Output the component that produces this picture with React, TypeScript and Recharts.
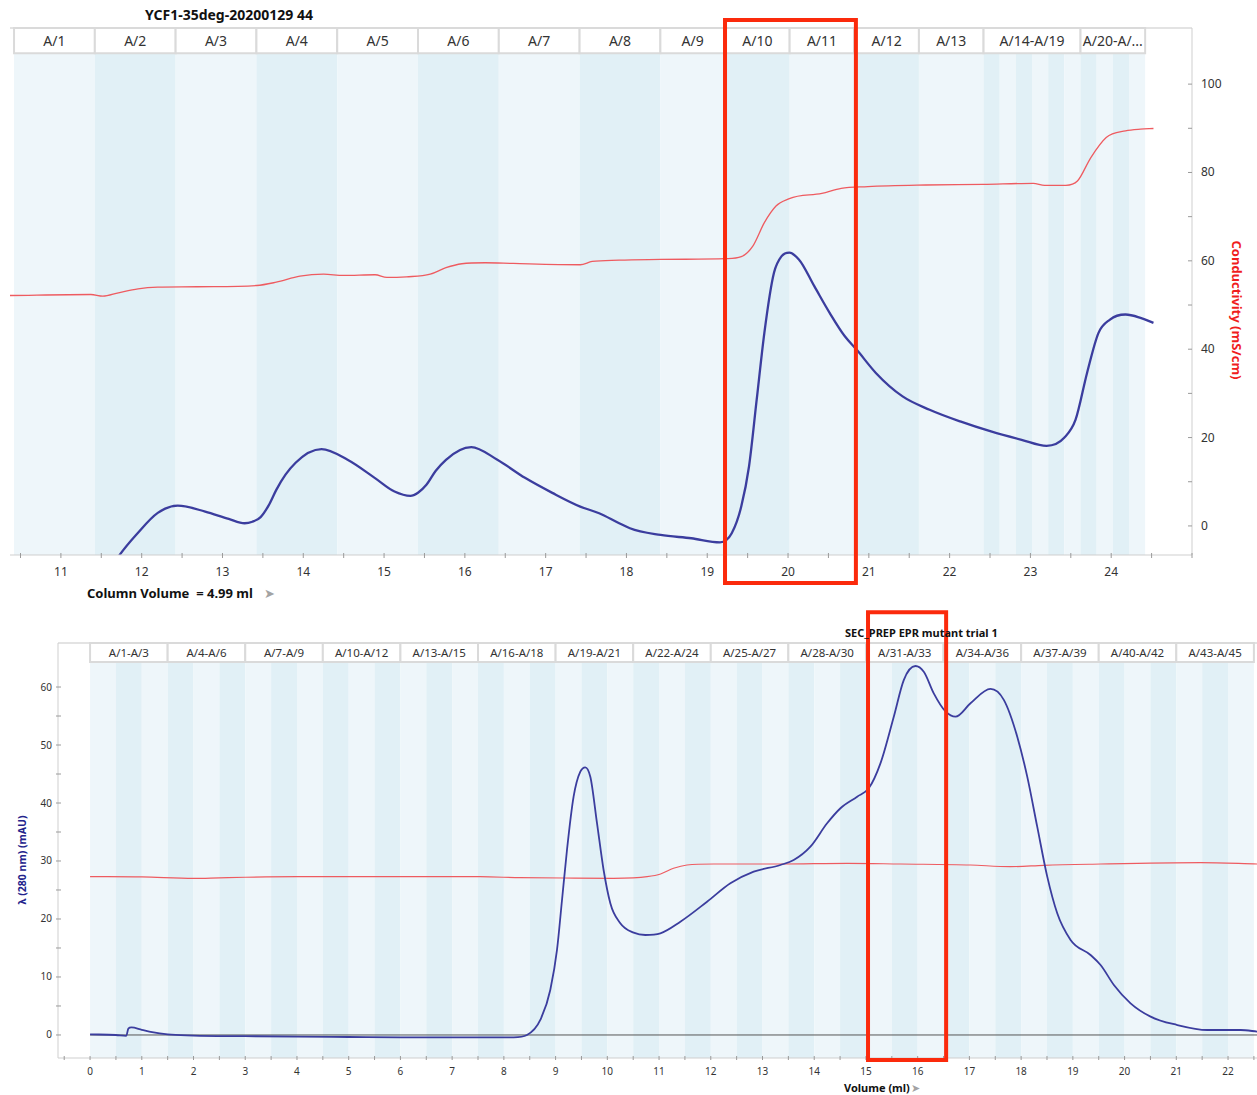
import React from 'react';
import { LineChart, Line, XAxis, YAxis, ReferenceArea, ReferenceLine } from 'recharts';

const FONT = '"Noto Sans", "Open Sans", "DejaVu Sans", sans-serif';

// ---------------- Top run: YCF1-35deg-20200129 44 ----------------
const topTitle = 'YCF1-35deg-20200129 44';
const topUvVolume = [11.62, 11.712, 11.952, 12.199, 12.446, 12.786, 13.077, 13.274, 13.37, 13.472, 13.57, 13.666, 13.78, 13.905, 14.226, 14.548, 14.888, 15.129, 15.326, 15.42, 15.524, 15.64, 15.766, 16.08, 16.402, 16.744, 17.082, 17.428, 17.662, 17.91, 18.043, 18.423, 18.803, 19.158, 19.303, 19.421, 19.517, 19.612, 19.707, 19.826, 19.921, 20.016, 20.134, 20.325, 20.515, 20.703, 20.848, 21.087, 21.418, 21.752, 22.131, 22.512, 22.891, 23.2, 23.415, 23.559, 23.701, 23.843, 23.985, 24.177, 24.362, 24.523];
const topUvValue = [-9.6, -6.96, -1.59, 2.95, 4.6, 3.24, 1.59, 0.61, 0.95, 2.0, 4.6, 8.16, 11.6, 14.29, 17.39, 14.97, 10.82, 7.78, 6.8, 7.5, 9.3, 12.5, 14.97, 17.85, 14.97, 10.88, 7.48, 4.38, 2.88, 0.61, -0.52, -2.04, -2.79, -3.7, -1.66, 4.38, 13.45, 28.57, 43.7, 57.3, 61.07, 61.84, 60.32, 54.26, 48.23, 42.93, 39.91, 34.63, 29.32, 26.3, 23.65, 21.38, 19.5, 18.14, 19.89, 24.04, 34.63, 43.7, 46.71, 47.85, 47.1, 45.96];
const topCondVolume = [10.37, 11.371, 11.519, 11.712, 11.955, 12.199, 12.688, 13.423, 13.666, 13.959, 14.251, 14.497, 14.888, 15.035, 15.277, 15.571, 15.766, 15.963, 16.253, 16.6, 17.428, 17.576, 17.91, 18.423, 19.232, 19.421, 19.564, 19.707, 19.851, 20.016, 20.419, 20.658, 20.988, 21.705, 22.417, 23.035, 23.176, 23.439, 23.582, 23.748, 23.938, 24.177, 24.362, 24.523];
const topCondValue = [52.15, 52.38, 52.0, 52.77, 53.67, 54.04, 54.13, 54.42, 55.17, 56.53, 56.98, 56.69, 56.85, 56.24, 56.39, 56.98, 58.44, 59.34, 59.57, 59.41, 59.12, 59.86, 60.16, 60.32, 60.48, 60.93, 63.33, 68.64, 72.4, 74.08, 75.28, 76.42, 76.8, 77.17, 77.32, 77.55, 77.1, 77.1, 78.07, 83.38, 87.91, 89.41, 89.8, 89.95];
const topFractionEdges = [10.42, 11.42, 12.42, 13.42, 14.42, 15.42, 16.42, 17.42, 18.42, 19.22, 20.02, 20.82, 21.62, 22.42, 22.62, 22.82, 23.02, 23.22, 23.42, 23.62, 23.82, 24.02, 24.22, 24.42];
const topHeaderLabels = ['A/1', 'A/2', 'A/3', 'A/4', 'A/5', 'A/6', 'A/7', 'A/8', 'A/9', 'A/10', 'A/11', 'A/12', 'A/13', 'A/14-A/19', 'A/20-A/...'];
const topHeaderEdges = [10.42, 11.42, 12.42, 13.42, 14.42, 15.42, 16.42, 17.42, 18.42, 19.22, 20.02, 20.82, 21.62, 22.42, 23.62, 24.42];
const topXTicks = [10.5, 11, 11.5, 12, 12.5, 13, 13.5, 14, 14.5, 15, 15.5, 16, 16.5, 17, 17.5, 18, 18.5, 19, 19.5, 20, 20.5, 21, 21.5, 22, 22.5, 23, 23.5, 24, 24.5, 25];
const topXTickLabels = [11, 12, 13, 14, 15, 16, 17, 18, 19, 20, 21, 22, 23, 24];
const topYTicks = [0, 10, 20, 30, 40, 50, 60, 70, 80, 90, 100];
const topYTickLabels = [0, 20, 40, 60, 80, 100];
const topHighlightVolume = [19.22, 20.84];

// ---------------- Bottom run: SEC_PREP EPR mutant trial 1 ----------------
const botTitle = 'SEC_PREP EPR mutant trial 1';
const botUvVolume = [0, 0.5, 0.7, 0.74, 0.8, 1.0, 1.2, 1.5, 2.0, 3.0, 4.0, 5.0, 6.0, 7.0, 8.19, 8.447, 8.704, 8.897, 9.027, 9.124, 9.22, 9.348, 9.478, 9.574, 9.671, 9.801, 9.928, 10.058, 10.251, 10.509, 10.735, 11.025, 11.412, 11.928, 12.379, 12.83, 13.346, 13.603, 13.926, 14.249, 14.507, 14.83, 15.054, 15.28, 15.538, 15.731, 15.957, 16.118, 16.311, 16.538, 16.731, 17.021, 17.408, 17.665, 17.925, 18.118, 18.311, 18.505, 18.698, 18.956, 19.342, 19.536, 19.793, 20.116, 20.503, 21.019, 21.6, 22.244, 22.573];
const botUvValue = [0.1, 0.0, -0.15, 1.1, 1.3, 0.9, 0.5, 0.1, -0.1, -0.2, -0.3, -0.35, -0.4, -0.4, -0.4, 0.0, 2.59, 7.76, 14.66, 23.28, 31.9, 41.09, 45.4, 46.16, 44.54, 36.5, 28.45, 22.7, 19.26, 17.64, 17.24, 17.53, 19.53, 22.98, 26.16, 28.16, 29.31, 30.17, 32.47, 36.5, 39.09, 41.09, 42.53, 46.84, 54.88, 61.2, 63.62, 62.64, 58.91, 55.8, 54.88, 57.19, 59.67, 57.79, 51.43, 44.54, 35.92, 27.3, 20.98, 16.38, 13.79, 12.07, 8.62, 5.46, 3.16, 1.72, 0.86, 0.86, 0.57];
const botCondVolume = [0, 1.0, 2.0, 2.5, 3.0, 4.0, 5.0, 6.0, 7.54, 8.32, 9.15, 10.12, 10.77, 11.03, 11.28, 11.54, 12.06, 13.35, 14.64, 15.67, 17.02, 17.79, 18.44, 19.54, 21.47, 22.57];
const botCondValue = [27.3, 27.25, 27.0, 27.1, 27.2, 27.3, 27.3, 27.3, 27.29, 27.12, 27.07, 27.02, 27.29, 27.76, 28.74, 29.31, 29.48, 29.48, 29.6, 29.48, 29.31, 29.02, 29.26, 29.48, 29.71, 29.48];
const botFractionEdges = [0, 0.5, 1, 1.5, 2, 2.5, 3, 3.5, 4, 4.5, 5, 5.5, 6, 6.5, 7, 7.5, 8, 8.5, 9, 9.5, 10, 10.5, 11, 11.5, 12, 12.5, 13, 13.5, 14, 14.5, 15, 15.5, 16, 16.5, 17, 17.5, 18, 18.5, 19, 19.5, 20, 20.5, 21, 21.5, 22, 22.5];
const botHeaderLabels = ['A/1-A/3', 'A/4-A/6', 'A/7-A/9', 'A/10-A/12', 'A/13-A/15', 'A/16-A/18', 'A/19-A/21', 'A/22-A/24', 'A/25-A/27', 'A/28-A/30', 'A/31-A/33', 'A/34-A/36', 'A/37-A/39', 'A/40-A/42', 'A/43-A/45'];
const botHeaderEdges = [0, 1.5, 3, 4.5, 6, 7.5, 9, 10.5, 12, 13.5, 15, 16.5, 18, 19.5, 21, 22.5];
const botXTicks = [-0.5, 0, 0.5, 1, 1.5, 2, 2.5, 3, 3.5, 4, 4.5, 5, 5.5, 6, 6.5, 7, 7.5, 8, 8.5, 9, 9.5, 10, 10.5, 11, 11.5, 12, 12.5, 13, 13.5, 14, 14.5, 15, 15.5, 16, 16.5, 17, 17.5, 18, 18.5, 19, 19.5, 20, 20.5, 21, 21.5, 22, 22.5];
const botXTickLabels = [0, 1, 2, 3, 4, 5, 6, 7, 8, 9, 10, 11, 12, 13, 14, 15, 16, 17, 18, 19, 20, 21, 22];
const botYTicks = [0, 5, 10, 15, 20, 25, 30, 35, 40, 45, 50, 55, 60];
const botYTickLabels = [0, 10, 20, 30, 40, 50, 60];
const botHighlightVolume = [15.04, 16.55];

// ---------------- helpers ----------------
const zip = (xs: number[], ys: number[]) => xs.map((x, i) => ({ x, y: ys[i] }));

const topUv = zip(topUvVolume, topUvValue);
const topCond = zip(topCondVolume, topCondValue);
const botUv = zip(botUvVolume, botUvValue);
const botCond = zip(botCondVolume, botCondValue);

// scale windows (value space)
const TOP_X_DOMAIN: [number, number] = [10.37, 25.0];
const TOP_Y_DOMAIN: [number, number] = [-6.58, 112.7];
const TOP_HEADER_BOTTOM = 107.0;
const TOP_BOX_Y: [number, number] = [-12.9, 114.5];

const BOT_X_DOMAIN: [number, number] = [-0.62, 22.56];
const BOT_Y_DOMAIN: [number, number] = [-3.97, 67.59];
const BOT_HEADER_BOTTOM = 64.31;
const BOT_BOX_Y: [number, number] = [-4.3, 72.9];

const BAND_LIGHT = '#eef6fa';
const BAND_DARK = '#e1f0f6';
const UV_BLUE = '#3b3d9e';
const COND_RED = '#ee5b60';
const BOX_RED = '#fb2a0c';
const AXIS_GRAY = '#cfcfcf';
const TICK_GRAY = '#9a9a9a';
const TEXT = '#333333';

// Smooth Hermite curve through the points (Fritsch–Carlson limited tangents)
const smoothCurve = (context: any) => {
  let xs: number[] = [];
  let ys: number[] = [];
  return {
    areaStart() {},
    areaEnd() {},
    lineStart() {
      xs = [];
      ys = [];
    },
    point(x: number, y: number) {
      xs.push(+x);
      ys.push(+y);
    },
    lineEnd() {
      const n = xs.length;
      if (n === 0) return;
      context.moveTo(xs[0], ys[0]);
      if (n === 1) return;
      if (n === 2) {
        context.lineTo(xs[1], ys[1]);
        return;
      }
      const s: number[] = [];
      for (let i = 0; i < n - 1; i++) s.push((ys[i + 1] - ys[i]) / (xs[i + 1] - xs[i] || 1e-9));
      const m: number[] = [];
      for (let i = 0; i < n; i++) {
        if (i === 0) m.push(s[0]);
        else if (i === n - 1) m.push(s[n - 2]);
        else {
          const h0 = xs[i] - xs[i - 1];
          const h1 = xs[i + 1] - xs[i];
          const s0 = s[i - 1];
          const s1 = s[i];
          if (s0 * s1 <= 0) m.push(0);
          else {
            const p = (s0 * h1 + s1 * h0) / (h0 + h1);
            const lim = 3 * Math.min(Math.abs(s0), Math.abs(s1));
            m.push(Math.sign(p) * Math.min(Math.abs(p), lim));
          }
        }
      }
      for (let i = 0; i < n - 1; i++) {
        const h = xs[i + 1] - xs[i];
        context.bezierCurveTo(
          xs[i] + h / 3,
          ys[i] + (m[i] * h) / 3,
          xs[i + 1] - h / 3,
          ys[i + 1] - (m[i + 1] * h) / 3,
          xs[i + 1],
          ys[i + 1]
        );
      }
    },
  };
};

const makeXTick = (labels: number[], fontSize: number, labelDy: number, up: number, down: number) => (props: any) => {
  const { x, y, payload } = props;
  const v = payload.value as number;
  return (
    <g>
      <line x1={x} x2={x} y1={y - up} y2={y + down} stroke={TICK_GRAY} strokeWidth={1} />
      {labels.includes(v) && (
        <text x={x} y={y + labelDy} textAnchor="middle" fontSize={fontSize} fill={TEXT} fontFamily={FONT}>
          {v}
        </text>
      )}
    </g>
  );
};

const TopXTick = makeXTick(topXTickLabels, 12, 21, 2, 3);
const BotXTick = makeXTick(botXTickLabels, 10, 16.5, 2, 2);

const TopYTick = (props: any) => {
  const { x, y, payload } = props;
  const v = payload.value as number;
  return (
    <g>
      <line x1={x - 4} x2={x} y1={y} y2={y} stroke={TICK_GRAY} strokeWidth={1} />
      {topYTickLabels.includes(v) && (
        <text x={x + 9} y={y + 4} textAnchor="start" fontSize={12} fill={TEXT} fontFamily={FONT}>
          {v}
        </text>
      )}
    </g>
  );
};

const BotYTick = (props: any) => {
  const { x, y, payload } = props;
  const v = payload.value as number;
  return (
    <g>
      <line x1={x - 2} x2={x + 3} y1={y} y2={y} stroke={TICK_GRAY} strokeWidth={1} />
      {botYTickLabels.includes(v) && (
        <text x={x - 6} y={y + 3.5} textAnchor="end" fontSize={10} fill={TEXT} fontFamily={FONT}>
          {v}
        </text>
      )}
    </g>
  );
};

const bands = (edges: number[], y1: number, y2: number, keyPrefix: string) =>
  edges.slice(0, -1).map((e, i) => (
    <ReferenceArea
      key={`${keyPrefix}-band-${i}`}
      x1={e}
      x2={edges[i + 1]}
      y1={y1}
      y2={y2}
      fill={i % 2 === 0 ? BAND_LIGHT : BAND_DARK}
      fillOpacity={1}
      stroke="none"
      ifOverflow="visible"
    />
  ));

const headers = (labels: string[], edges: number[], y1: number, y2: number, fontSize: number, keyPrefix: string) =>
  labels.map((lab, i) => (
    <ReferenceArea
      key={`${keyPrefix}-hdr-${i}`}
      x1={edges[i]}
      x2={edges[i + 1]}
      y1={y1}
      y2={y2}
      fill="#ffffff"
      fillOpacity={1}
      stroke="#dadada"
      strokeWidth={2}
      ifOverflow="visible"
      label={{ value: lab, position: 'center', fill: TEXT, fontSize, fontFamily: FONT }}
    />
  ));

const TopChart = () => (
  <LineChart width={1257} height={605} margin={{ top: 28, right: 0, bottom: 0, left: 10 }}>
    <XAxis
      type="number"
      dataKey="x"
      domain={TOP_X_DOMAIN}
      allowDataOverflow
      ticks={topXTicks}
      interval={0}
      tickSize={0}
      tickMargin={0}
      tickLine={false}
      tick={TopXTick}
      height={50}
      axisLine={{ stroke: AXIS_GRAY }}
    />
    <YAxis
      type="number"
      orientation="right"
      domain={TOP_Y_DOMAIN}
      allowDataOverflow
      ticks={topYTicks}
      interval={0}
      tickSize={0}
      tickMargin={0}
      tickLine={false}
      tick={TopYTick}
      width={65}
      axisLine={{ stroke: AXIS_GRAY }}
    />
    {bands(topFractionEdges, TOP_Y_DOMAIN[0], TOP_HEADER_BOTTOM, 'top')}
    {headers(topHeaderLabels, topHeaderEdges, TOP_HEADER_BOTTOM, TOP_Y_DOMAIN[1], 14, 'top')}
    <ReferenceLine y={TOP_Y_DOMAIN[1]} stroke="#dadada" strokeWidth={1.5} ifOverflow="visible" />
    <Line data={topCond} dataKey="y" type={smoothCurve as any} stroke={COND_RED} strokeWidth={1.3} dot={false} isAnimationActive={false} />
    <Line data={topUv} dataKey="y" type={smoothCurve as any} stroke={UV_BLUE} strokeWidth={2.3} dot={false} isAnimationActive={false} />
    <ReferenceArea
      x1={topHighlightVolume[0]}
      x2={topHighlightVolume[1]}
      y1={TOP_BOX_Y[0]}
      y2={TOP_BOX_Y[1]}
      fill="none"
      fillOpacity={0}
      stroke={BOX_RED}
      strokeWidth={4}
      ifOverflow="visible"
      {...({ zIndex: 2000 } as any)}
    />
  </LineChart>
);

const BottomChart = () => (
  <LineChart width={1257} height={490} margin={{ top: 38, right: 0, bottom: 0, left: 0 }}>
    <XAxis
      type="number"
      dataKey="x"
      domain={BOT_X_DOMAIN}
      allowDataOverflow
      ticks={botXTicks}
      interval={0}
      tickSize={0}
      tickMargin={0}
      tickLine={false}
      tick={BotXTick}
      height={37}
      axisLine={{ stroke: AXIS_GRAY }}
    />
    <YAxis
      type="number"
      orientation="left"
      domain={BOT_Y_DOMAIN}
      allowDataOverflow
      ticks={botYTicks}
      interval={0}
      tickSize={0}
      tickMargin={0}
      tickLine={false}
      tick={BotYTick}
      width={58}
      axisLine={{ stroke: AXIS_GRAY }}
    />
    {bands(botFractionEdges, BOT_Y_DOMAIN[0], BOT_HEADER_BOTTOM, 'bot')}
    {headers(botHeaderLabels, botHeaderEdges, BOT_HEADER_BOTTOM, BOT_Y_DOMAIN[1], 11.5, 'bot')}
    <ReferenceLine y={BOT_Y_DOMAIN[1]} stroke="#dadada" strokeWidth={1.5} ifOverflow="visible" />
    <ReferenceLine
      segment={[
        { x: 0, y: 0 },
        { x: BOT_X_DOMAIN[1], y: 0 },
      ]}
      stroke="#555555"
      strokeWidth={1}
      ifOverflow="visible"
    />
    <Line data={botCond} dataKey="y" type={smoothCurve as any} stroke={COND_RED} strokeWidth={1.2} dot={false} isAnimationActive={false} />
    <Line data={botUv} dataKey="y" type={smoothCurve as any} stroke={UV_BLUE} strokeWidth={1.8} dot={false} isAnimationActive={false} />
    <ReferenceArea
      x1={botHighlightVolume[0]}
      x2={botHighlightVolume[1]}
      y1={BOT_BOX_Y[0]}
      y2={BOT_BOX_Y[1]}
      fill="none"
      fillOpacity={0}
      stroke={BOX_RED}
      strokeWidth={4}
      ifOverflow="visible"
      {...({ zIndex: 2000 } as any)}
    />
  </LineChart>
);

const Overlay = () => (
  <svg width={1257} height={1095} style={{ position: 'absolute', left: 0, top: 0, pointerEvents: 'none' }}>
    <text x={145} y={20} fontSize={14} fontWeight={700} fill="#111" fontFamily={FONT}>
      {topTitle}
    </text>
    <text x={87} y={598} fontSize={13} fontWeight={700} fill="#111" fontFamily={FONT} xmlSpace="preserve">
      {'Column Volume  = 4.99 ml'}
    </text>
    <text x={264} y={598} fontSize={13} fill="#a3a3a3" fontFamily='"DejaVu Sans", sans-serif'>
      ➤
    </text>
    <text
      x={1237}
      y={310}
      transform="rotate(90 1237 310)"
      textAnchor="middle"
      dominantBaseline="central"
      fontSize={13}
      fontWeight={700}
      fill="#f01d1d"
      fontFamily={FONT}
    >
      Conductivity (mS/cm)
    </text>
    <text x={845} y={637} fontSize={11} fontWeight={700} fill="#111" fontFamily={FONT}>
      {botTitle}
    </text>
    <text x={844} y={1092} fontSize={11} fontWeight={700} fill="#111" fontFamily={FONT}>
      Volume (ml)
    </text>
    <text x={911} y={1092} fontSize={11} fill="#a3a3a3" fontFamily='"DejaVu Sans", sans-serif'>
      ➤
    </text>
    <text
      x={22}
      y={860}
      transform="rotate(-90 22 860)"
      textAnchor="middle"
      dominantBaseline="central"
      fontSize={10.5}
      fontWeight={700}
      fill="#23238c"
      fontFamily={FONT}
    >
      λ (280 nm) (mAU)
    </text>
  </svg>
);

export default function App() {
  return (
    <div
      style={{
        position: 'absolute',
        left: 0,
        top: 0,
        width: 1257,
        height: 1095,
        background: '#ffffff',
        overflow: 'hidden',
        fontFamily: FONT,
      }}
    >
      <div style={{ position: 'absolute', left: 0, top: 0 }}>
        <TopChart />
      </div>
      <div style={{ position: 'absolute', left: 0, top: 605 }}>
        <BottomChart />
      </div>
      <Overlay />
    </div>
  );
}
